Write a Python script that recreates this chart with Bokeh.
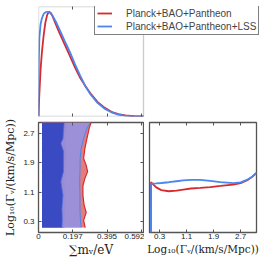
from bokeh.plotting import figure
from bokeh.models import FixedTicker, LinearAxis, Legend, LegendItem, Range1d, BoxAnnotation
from bokeh.layouts import column, row
from bokeh.embed import file_html
from bokeh.resources import INLINE

# ---------------- data ----------------
label_red = "Planck+BAO+Pantheon"
label_blue = "Planck+BAO+Pantheon+LSS"

# 1D posterior of sum m_nu
mnu_grid = [0, 0.002, 0.005, 0.012, 0.02, 0.03, 0.04, 0.05, 0.06, 0.07, 0.08, 0.10, 0.12,
            0.15, 0.18, 0.21, 0.24, 0.27, 0.30, 0.34, 0.38, 0.42, 0.46, 0.50, 0.55, 0.605]
mnu_red = [0, 0.10, 0.22, 0.45, 0.62, 0.78, 0.90, 0.97, 1.00, 0.99, 0.96, 0.88, 0.80,
           0.69, 0.58, 0.47, 0.37, 0.29, 0.22, 0.14, 0.085, 0.045, 0.022, 0.010, 0.003, 0.0]
mnu_blue = [0, 0.55, 0.75, 0.88, 0.94, 0.98, 0.995, 1.0, 0.995, 0.985, 0.965, 0.905, 0.835,
            0.725, 0.62, 0.50, 0.39, 0.29, 0.21, 0.13, 0.075, 0.040, 0.018, 0.008, 0.002, 0.0]

# 1D posterior of Log10(Gamma_nu)
gam_grid = [0.04, 0.045, 0.1, 0.2, 0.35, 0.57, 0.8, 1.0, 1.23, 1.5, 1.8, 2.1, 2.48, 2.7, 2.9, 3.05, 3.17]
gam_blue = [0, 0.443, 0.444, 0.446, 0.450, 0.457, 0.466, 0.473, 0.479, 0.478, 0.470, 0.458, 0.449,
            0.455, 0.480, 0.510, 0.542]
gam_red = [0, 0.457, 0.44, 0.41, 0.385, 0.375, 0.38, 0.39, 0.40, 0.405, 0.413, 0.423, 0.436,
           0.448, 0.475, 0.508, 0.542]

# 2D contours (right boundary x at given Log10 Gamma), left edge at contour_xmin
contour_xmin = 0.02
red95_y = [0.136, 0.33, 0.55, 0.74, 1.01, 1.28, 1.47, 1.66, 1.83, 2.02, 2.29, 2.56, 2.84, 3.0]
red95_x = [0.269, 0.260, 0.275, 0.263, 0.256, 0.256, 0.267, 0.283, 0.275, 0.260, 0.267, 0.279, 0.292, 0.303]
red68_y = [0.136, 0.5, 1.0, 1.4, 1.8, 2.2, 2.6, 3.0]
red68_x = [0.150, 0.152, 0.156, 0.148, 0.158, 0.160, 0.155, 0.165]
lss95_y = [0.136, 0.38, 0.65, 1.01, 1.39, 1.66, 2.02, 2.29, 2.56, 2.84, 3.0]
lss95_x = [0.246, 0.241, 0.239, 0.239, 0.237, 0.239, 0.240, 0.246, 0.260, 0.279, 0.298]
lss68_y = [0.136, 0.38, 0.65, 1.01, 1.39, 1.66, 2.21, 2.43, 2.56, 3.0]
lss68_x = [0.135, 0.137, 0.135, 0.141, 0.129, 0.144, 0.145, 0.129, 0.141, 0.148]

mnu_ticks = [0, 0.197, 0.395, 0.592]
mnu_tick_labels = ["0", "0.197", "0.395", "0.592"]
gam_ticks = [0.3, 1.1, 1.9, 2.7]
gam_tick_labels = ["0.3", "1.1", "1.9", "2.7"]

mnu_range = (0, 0.605)
gam_range = (0, 3.0)
gam_range_1d = (0, 3.17)
pdf_range = (0, 1.05)

# ---------------- styles / layout ----------------
RED = "#D62A2F"
BLUE = "#4A86EE"
FRAME = "#555555"
TICK_FONT = "Liberation Sans"
SERIF = "DejaVu Serif"
gam_label = "Log\u2081\u2080(\u0393\u1d65/(km/s/Mpc))"
mnu_label = "\u2211m\u1d65/eV"

TOTAL_W = 269
W_LEFT_FIG = 144
W_RIGHT_FIG = TOTAL_W - W_LEFT_FIG
H_TOP_FIG = 119
H_BOT_FIG = 145
B_LEFT = 38
PANEL_W = 105


def style_axis(ax, ticks, labels=None):
    ax.ticker = FixedTicker(ticks=ticks)
    ax.axis_line_color = None
    ax.major_tick_in = 3
    ax.major_tick_out = 0
    ax.major_tick_line_color = FRAME
    ax.major_tick_line_width = 1
    ax.minor_tick_line_color = None
    if labels is None:
        ax.major_label_text_font_size = "0px"
        ax.major_label_standoff = 0
    else:
        ax.major_label_overrides = {t: l for t, l in zip(ticks, labels)}
        ax.major_label_text_font = TICK_FONT
        ax.major_label_text_font_size = "8px"
        ax.major_label_text_color = "#222222"


def base_fig(w, h, xr, yr, bl, br, bt, bb):
    p = figure(width=w, height=h, x_range=Range1d(*xr), y_range=Range1d(*yr),
               output_backend="svg", toolbar_location=None,
               min_border_left=bl, min_border_right=br,
               min_border_top=bt, min_border_bottom=bb)
    p.grid.visible = False
    p.outline_line_color = FRAME
    p.outline_line_width = 1.3
    p.background_fill_color = "white"
    p.border_fill_color = "white"
    return p


def label_style(ax, text, size, standoff):
    ax.axis_label = text
    ax.axis_label_standoff = standoff
    ax.axis_label_text_font = SERIF
    ax.axis_label_text_font_size = size
    ax.axis_label_text_font_style = "normal"
    ax.axis_label_text_color = "#222222"


# ---------------- top-left: 1D sum m_nu (frame extended so the legend can overlap) ----------------
wide_w = TOTAL_W - B_LEFT
x_end_wide = mnu_range[1] * wide_w / PANEL_W
f1 = base_fig(TOTAL_W, H_TOP_FIG, (0, x_end_wide), pdf_range, B_LEFT, 0, 6, 3)
f1.outline_line_color = None
f1.add_layout(BoxAnnotation(left=mnu_range[0], right=mnu_range[1], bottom=pdf_range[0], top=pdf_range[1],
                            fill_alpha=0, line_color=FRAME, line_width=1.3))
r1 = f1.line(mnu_grid, mnu_red, line_color=RED, line_width=1.8)
b1 = f1.line(mnu_grid, mnu_blue, line_color=BLUE, line_width=1.8)
style_axis(f1.xaxis[0], mnu_ticks[1:])
f1.yaxis.visible = False
ax_top1 = LinearAxis()
style_axis(ax_top1, mnu_ticks[1:])
f1.add_layout(ax_top1, "above")

legend = Legend(items=[LegendItem(label=label_red, renderers=[r1]),
                       LegendItem(label=label_blue, renderers=[b1])],
                location=(56, 81), orientation="vertical")
legend.label_text_font = TICK_FONT
legend.label_text_font_size = "10px"
legend.border_line_color = "black"
legend.border_line_width = 1
legend.background_fill_alpha = 1
legend.padding = 2
legend.spacing = 1
legend.glyph_width = 15
legend.glyph_height = 12
legend.label_height = 12
legend.label_standoff = 14
legend.margin = 0
f1.add_layout(legend, "center")

# ---------------- bottom-left: 2D contours ----------------
f2 = base_fig(W_LEFT_FIG, H_BOT_FIG, mnu_range, gam_range, B_LEFT, 1, 3, 32)


def poly(xr, yr):
    xs = [contour_xmin] + list(xr) + [contour_xmin]
    ys = [yr[0]] + list(yr) + [yr[-1]]
    return xs, ys


x, y = poly(red95_x, red95_y)
f2.patch(x, y, fill_color="#E37D7D", line_color=None)
f2.line(red95_x, red95_y, line_color=RED, line_width=1.2)
x, y = poly(red68_x, red68_y)
f2.patch(x, y, fill_color="#CF4545", line_color=None)
x, y = poly(lss95_x, lss95_y)
f2.patch(x, y, fill_color="#9494E2", fill_alpha=0.9, line_color=None)
f2.line(lss95_x, lss95_y, line_color=BLUE, line_width=1)
x, y = poly(lss68_x, lss68_y)
f2.patch(x, y, fill_color="#3A4AC2", line_color=None)
f2.line(lss68_x, lss68_y, line_color="#4F6FE0", line_width=0.8)

style_axis(f2.xaxis[0], mnu_ticks, mnu_tick_labels)
f2.xaxis.major_label_standoff = 1
label_style(f2.xaxis[0], mnu_label, "12px", 1)
style_axis(f2.yaxis[0], gam_ticks, gam_tick_labels)
f2.yaxis.major_label_standoff = 4
label_style(f2.yaxis[0], gam_label, "11px", 3)
ax_top2 = LinearAxis()
style_axis(ax_top2, mnu_ticks)
f2.add_layout(ax_top2, "above")
ax_right2 = LinearAxis()
style_axis(ax_right2, gam_ticks)
f2.add_layout(ax_right2, "right")

# ---------------- bottom-right: 1D Log10 Gamma ----------------
f3 = base_fig(W_RIGHT_FIG, H_BOT_FIG, gam_range_1d, (0, 1.0), 5, 13, 3, 32)
f3.line(gam_grid, gam_red, line_color=RED, line_width=1.8)
f3.line(gam_grid, gam_blue, line_color=BLUE, line_width=1.8)
style_axis(f3.xaxis[0], gam_ticks, gam_tick_labels)
f3.xaxis.major_label_standoff = 1
label_style(f3.xaxis[0], gam_label, "10.5px", 1)
f3.yaxis.visible = False
ax_top3 = LinearAxis()
style_axis(ax_top3, gam_ticks)
f3.add_layout(ax_top3, "above")

layout = column(f1, row(f2, f3, spacing=0), spacing=0)
open("out.html", "w").write(file_html(layout, INLINE))
